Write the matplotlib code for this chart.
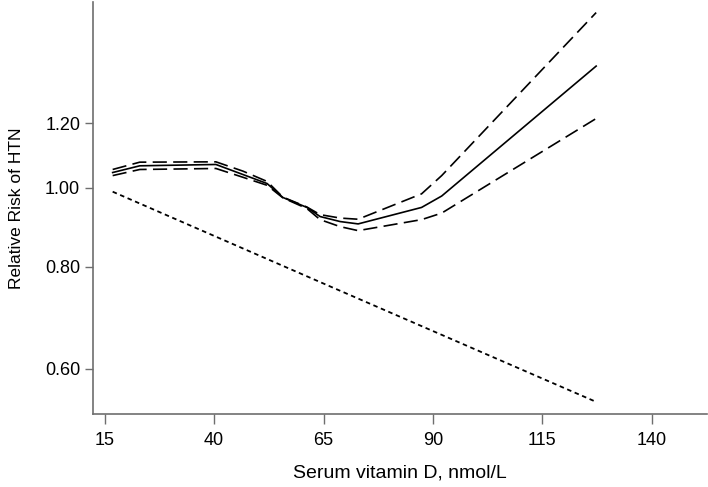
import matplotlib
matplotlib.use("Agg")
import matplotlib.pyplot as plt
from matplotlib.ticker import FixedLocator, NullLocator

plt.rcParams["font.family"] = ["Liberation Sans", "DejaVu Sans"]

# serum vitamin D (nmol/L) where the spline curves were read
vitd = [16.8, 23.0, 40.4, 46.6, 52.1, 55.7, 61.2, 64.2, 68.8, 72.9, 87.4, 92.0, 127.3]
rr = [1.044, 1.064, 1.068, 1.038, 1.012, 0.973, 0.946, 0.922, 0.909, 0.903, 0.946, 0.977, 1.410]
rr_upper = [1.053, 1.075, 1.076, 1.048, 1.018, 0.974, 0.947, 0.927, 0.918, 0.915, 0.983, 1.035, 1.640]
rr_lower = [1.035, 1.053, 1.056, 1.030, 1.007, 0.972, 0.943, 0.914, 0.896, 0.886, 0.914, 0.931, 1.216]

# linear trend
lin_x = [16.8, 65.0, 127.4]
lin_rr = [0.989, 0.763, 0.546]

x_ticks = [15, 40, 65, 90, 115, 140]
y_ticks = [0.60, 0.80, 1.00, 1.20]

fig = plt.figure(figsize=(7.08, 4.87), dpi=100)
ax = fig.add_axes([0.131, 0.150, 0.868, 0.846])

ax.plot(vitd, rr, color="black", lw=1.2, solid_joinstyle="miter")
ax.plot(vitd, rr_upper, color="black", lw=1.2, linestyle=(0, (8.5, 3.8)))
ax.plot(vitd, rr_lower, color="black", lw=1.2, linestyle=(0, (8.5, 3.8)))
ax.plot(lin_x, lin_rr, color="black", lw=1.3, linestyle=(0, (2.5, 2)))

ax.set_yscale("log")
ax.set_xlim(12.25, 152.7)
ax.set_ylim(0.528, 1.69)

ax.xaxis.set_major_locator(FixedLocator(x_ticks))
ax.set_xticklabels([str(t) for t in x_ticks])
ax.yaxis.set_major_locator(FixedLocator(y_ticks))
ax.yaxis.set_minor_locator(NullLocator())
ax.set_yticklabels([f"{t:.2f}" for t in y_ticks])

for side in ["top", "right"]:
    ax.spines[side].set_visible(False)
for side in ["left", "bottom"]:
    ax.spines[side].set_color("#6e6e6e")
    ax.spines[side].set_linewidth(1.2)

ax.tick_params(axis="both", colors="#6e6e6e", labelcolor="black", labelsize=13, width=1.0)
ax.tick_params(axis="y", length=6, pad=3)
ax.tick_params(axis="x", length=7, pad=6)

ax.set_xlabel("Serum vitamin D, nmol/L", fontsize=14, labelpad=11)
ax.set_ylabel("Relative Risk of HTN", fontsize=12.5, labelpad=15)

fig.savefig("out.png", dpi=100)
